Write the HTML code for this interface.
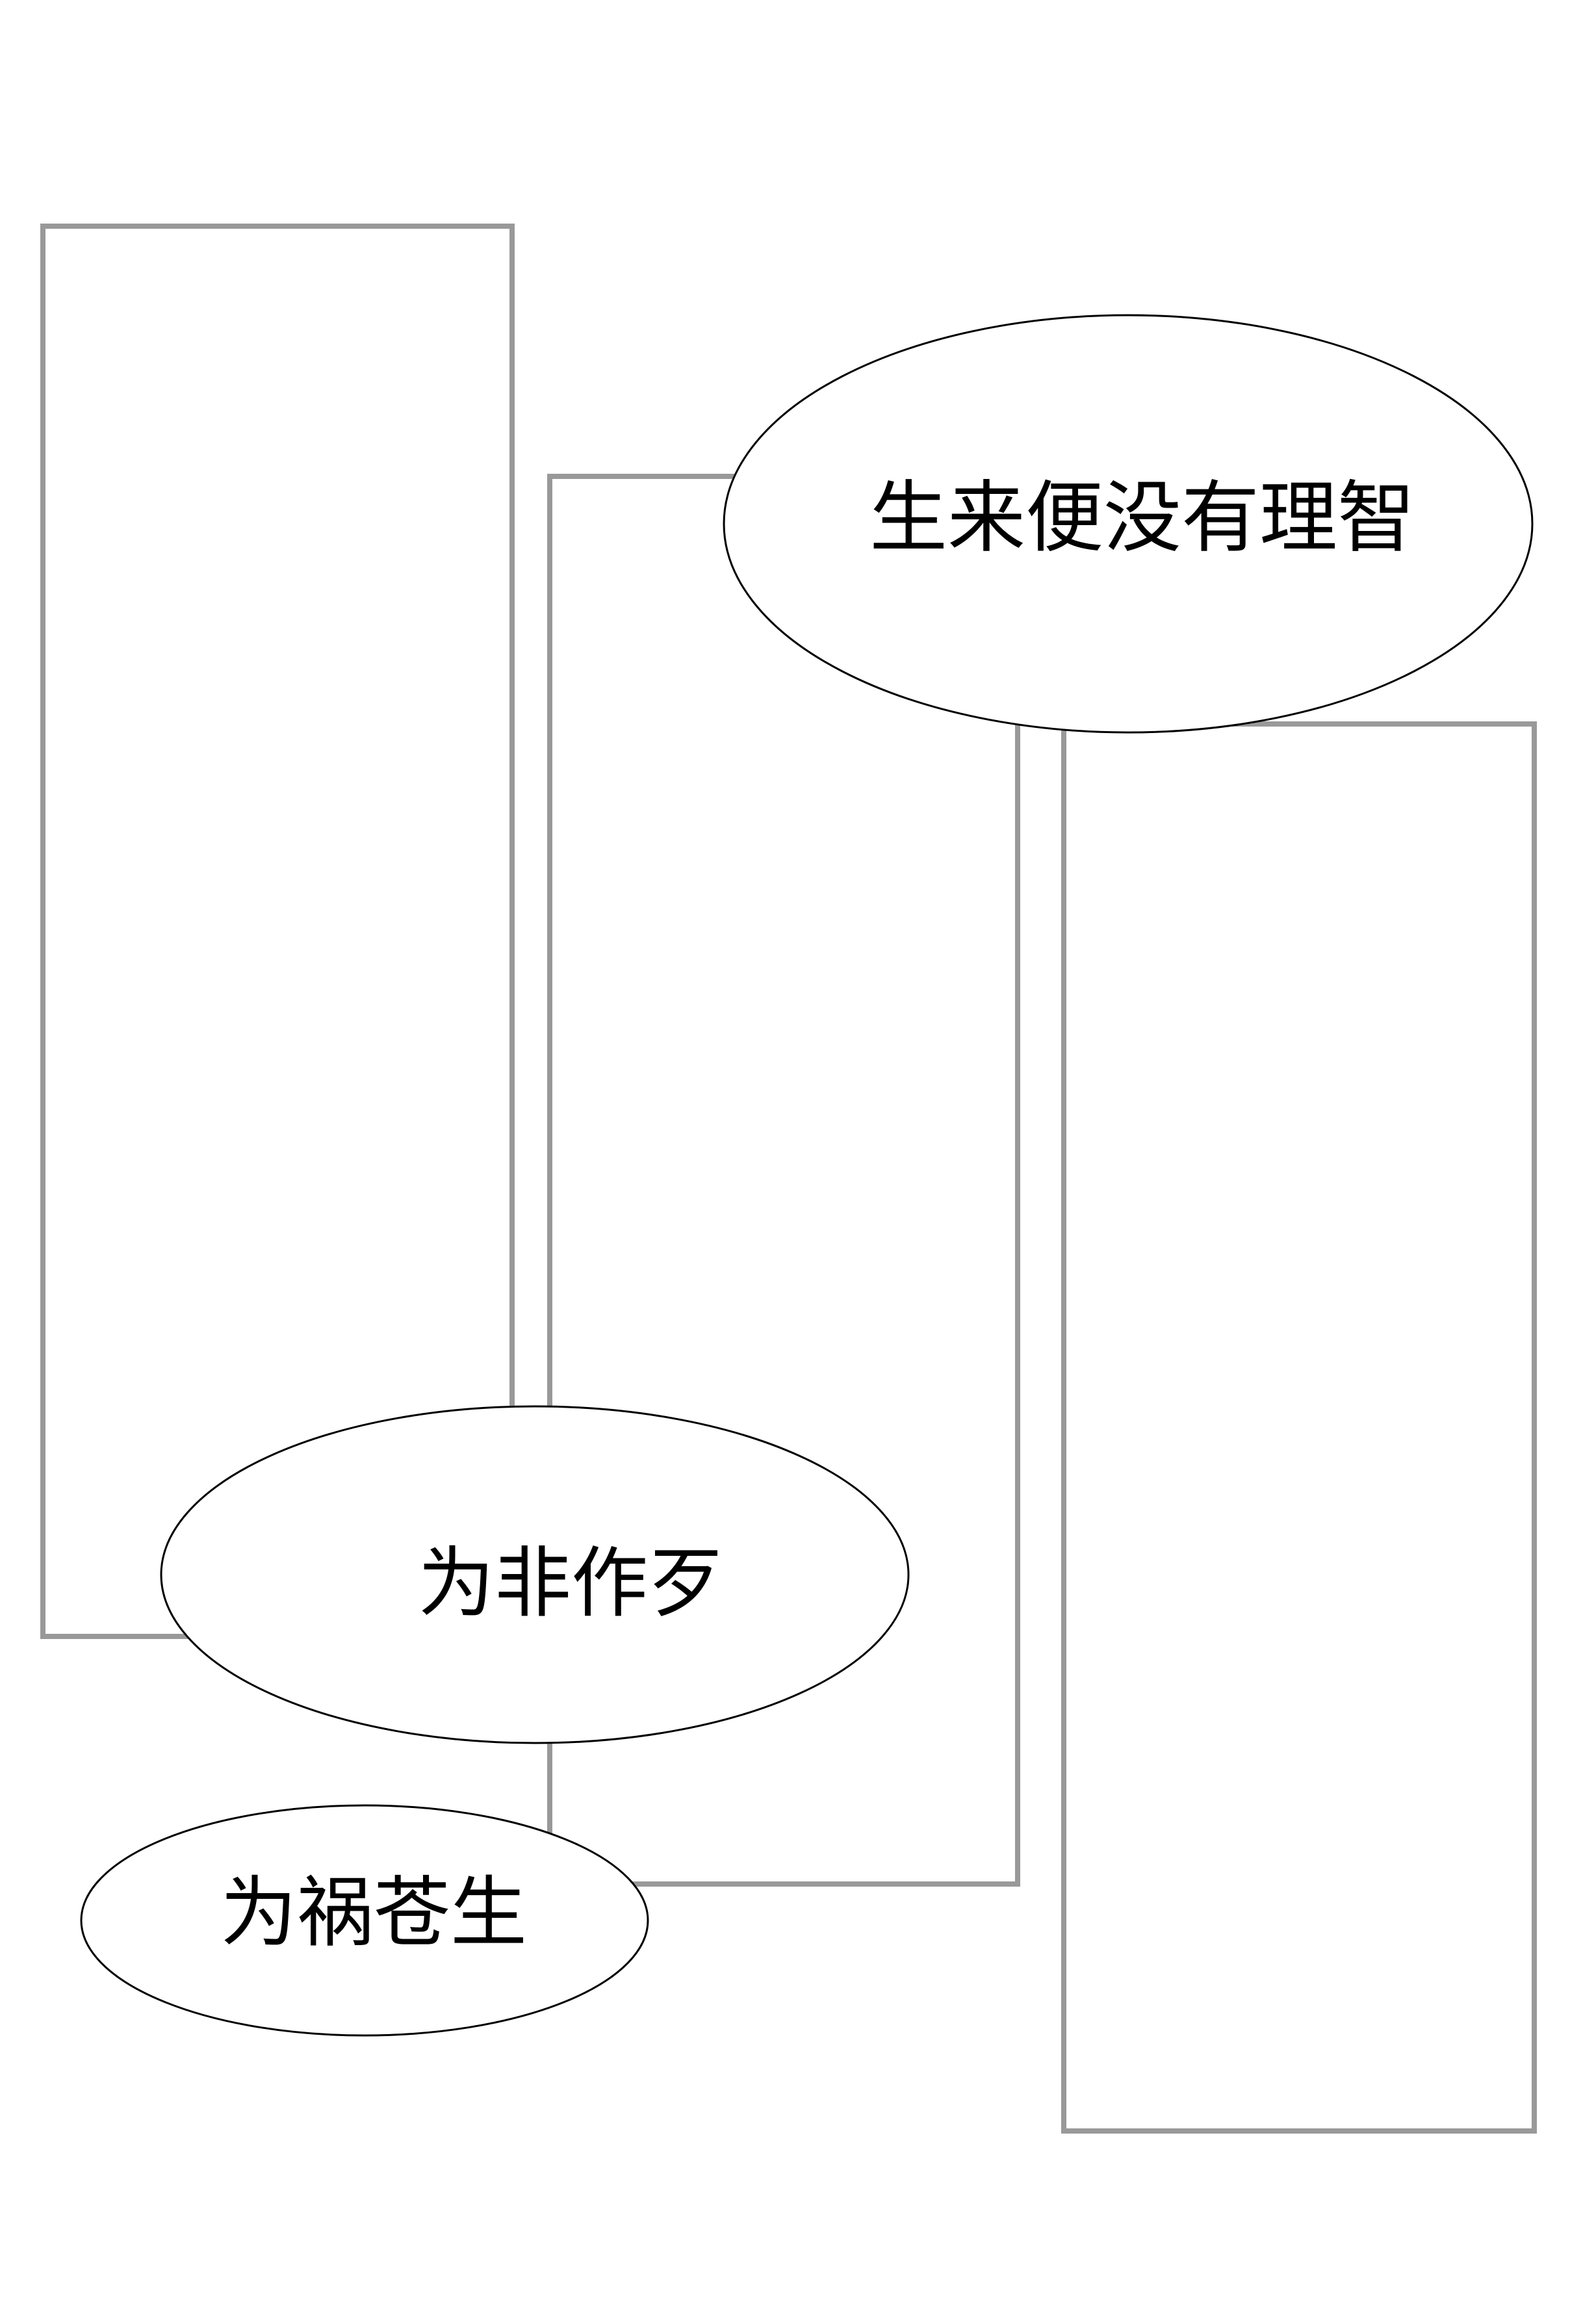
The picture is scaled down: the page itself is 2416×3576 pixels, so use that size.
<!DOCTYPE html>
<html><head><meta charset="utf-8"><style>
html,body{margin:0;padding:0;background:#fff;}
svg{display:block;}
text{font-family:"Liberation Sans","Noto Sans CJK SC",sans-serif;font-size:118px;fill:#000;}
</style></head><body>
<svg width="2416" height="3576" viewBox="0 0 2416 3576" xmlns="http://www.w3.org/2000/svg">
<rect x="0" y="0" width="2416" height="3576" fill="#fff"/>
<g fill="none" stroke="#999" stroke-width="8">
<rect x="66" y="348" width="722" height="2170"/>
<rect x="846" y="733" width="720" height="2166"/>
<rect x="1637" y="1114" width="724" height="2165"/>
</g>
<g fill="#fff" stroke="#000" stroke-width="3">
<ellipse cx="1736" cy="806" rx="622" ry="321"/>
<ellipse cx="823" cy="2423" rx="575" ry="259"/>
<ellipse cx="561" cy="2955" rx="436" ry="177"/>
</g>
<text x="1758" y="797" text-anchor="middle" dominant-baseline="central" style="font-size:120px">生来便没有理智</text>
<text x="879" y="2437" text-anchor="middle" dominant-baseline="central">为非作歹</text>
<text x="575" y="2944" text-anchor="middle" dominant-baseline="central">为祸苍生</text>
</svg>
</body></html>
